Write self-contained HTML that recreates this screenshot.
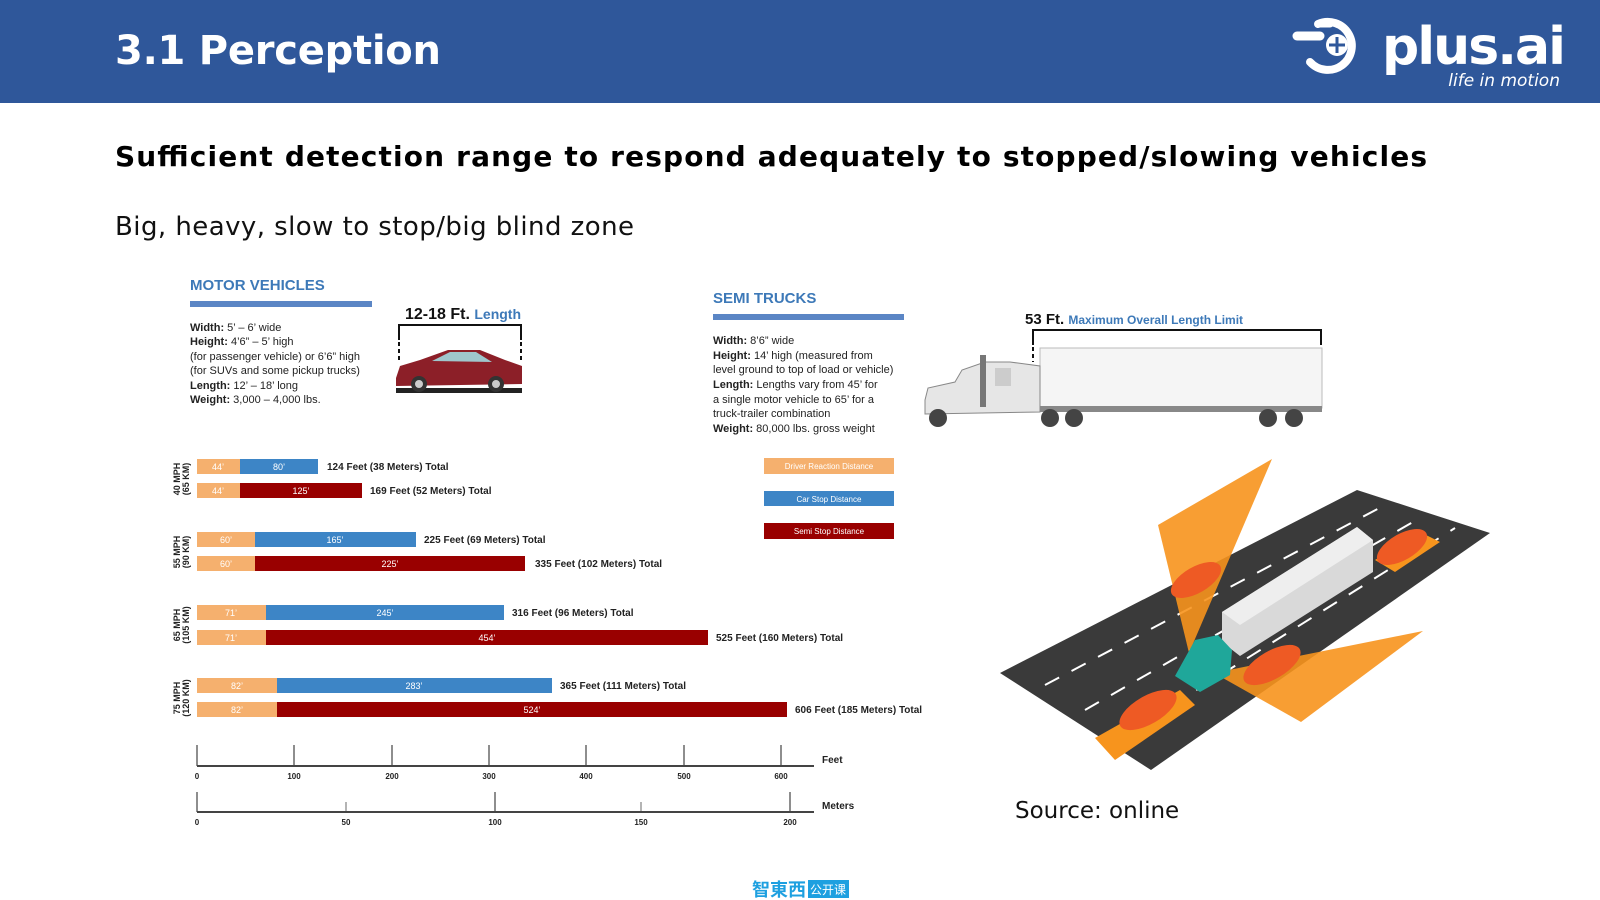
<!DOCTYPE html>
<html><head><meta charset="utf-8"><style>
html,body{margin:0;padding:0;background:#fff}
svg{display:block}
.n{font-family:"Liberation Sans",sans-serif}
</style></head><body>
<svg width="1600" height="900" viewBox="0 0 1600 900" xmlns="http://www.w3.org/2000/svg" class="n">
<rect width="1600" height="103" fill="#2f579a"/>
<text x="115" y="64" font-family="DejaVu Sans" font-weight="bold" font-size="40" fill="#fff" textLength="326">3.1 Perception</text>
<!-- logo -->
<g fill="#fff" stroke="#fff">
<line x1="1297" y1="36" x2="1320" y2="36" stroke-width="9" stroke-linecap="round"/>
<line x1="1318" y1="24" x2="1330" y2="24" stroke-width="7" stroke-linecap="round"/>
<path d="M1318 24 A24 24 0 1 1 1310 62" fill="none" stroke-width="8" stroke-linecap="round"/>
<circle cx="1337" cy="45" r="11" stroke="none"/>
</g>
<path d="M1337 37 L1337 53 M1329 45 L1345 45" stroke="#2f579a" stroke-width="3"/>
<text x="1382" y="64" font-family="DejaVu Sans" font-weight="bold" font-size="52" fill="#fff" textLength="184">plus.ai</text>
<text x="1560" y="86" text-anchor="end" font-family="DejaVu Sans" font-style="italic" font-size="17" fill="#fff">life in motion</text>

<text x="115" y="166" font-family="DejaVu Sans" font-weight="bold" font-size="28" fill="#000" textLength="1312">Sufficient detection range to respond adequately to stopped/slowing vehicles</text>
<text x="115" y="235" font-family="DejaVu Sans" font-size="26" fill="#111" textLength="519">Big, heavy, slow to stop/big blind zone</text>

<!-- Motor vehicles -->
<text x="190" y="290" font-size="15" font-weight="bold" fill="#3d79b8">MOTOR VEHICLES</text>
<rect x="190" y="301" width="182" height="6" fill="#5b86c5"/>
<g font-size="11" fill="#222">
<text x="190" y="331"><tspan font-weight="bold">Width:</tspan> 5’ – 6’ wide</text>
<text x="190" y="345"><tspan font-weight="bold">Height:</tspan> 4’6” – 5’ high</text>
<text x="190" y="360">(for passenger vehicle) or 6’6” high</text>
<text x="190" y="374">(for SUVs and some pickup trucks)</text>
<text x="190" y="389"><tspan font-weight="bold">Length:</tspan> 12’ – 18’ long</text>
<text x="190" y="403"><tspan font-weight="bold">Weight:</tspan> 3,000 – 4,000 lbs.</text>
</g>
<text x="405" y="319" font-size="16" font-weight="bold" fill="#111">12-18 Ft. <tspan fill="#3d79b8" font-size="14">Length</tspan></text>
<path d="M399 340 V325 H521 V340" fill="none" stroke="#111" stroke-width="2"/>
<path d="M399 342 V362 M521 342 V362" stroke="#111" stroke-width="2" stroke-dasharray="4 3"/>
<path d="M396 378 L400 366 L420 360 L448 350 L480 350 L505 360 L522 366 L522 384 L396 386 Z" fill="#8c1f28"/>
<path d="M432 361 L450 352 L476 352 L492 362 Z" fill="#9fc6cc"/>
<rect x="396" y="388" width="126" height="5" fill="#222"/>
<circle cx="419" cy="384" r="8" fill="#333"/><circle cx="419" cy="384" r="4" fill="#ccc"/>
<circle cx="496" cy="384" r="8" fill="#333"/><circle cx="496" cy="384" r="4" fill="#ccc"/>

<!-- Semi trucks -->
<text x="713" y="303" font-size="15" font-weight="bold" fill="#3d79b8">SEMI TRUCKS</text>
<rect x="713" y="314" width="191" height="6" fill="#5b86c5"/>
<g font-size="11" fill="#222">
<text x="713" y="344"><tspan font-weight="bold">Width:</tspan> 8’6” wide</text>
<text x="713" y="359"><tspan font-weight="bold">Height:</tspan> 14’ high (measured from</text>
<text x="713" y="373">level ground to top of load or vehicle)</text>
<text x="713" y="388"><tspan font-weight="bold">Length:</tspan> Lengths vary from 45’ for</text>
<text x="713" y="403">a single motor vehicle to 65’ for a</text>
<text x="713" y="417">truck-trailer combination</text>
<text x="713" y="432"><tspan font-weight="bold">Weight:</tspan> 80,000 lbs. gross weight</text>
</g>
<text x="1025" y="324" font-size="15" font-weight="bold" fill="#111">53 Ft. <tspan fill="#3d79b8" font-size="12">Maximum Overall Length Limit</tspan></text>
<path d="M1033 345 V330 H1321 V345" fill="none" stroke="#111" stroke-width="2"/>
<path d="M1033 347 V362" stroke="#111" stroke-width="2" stroke-dasharray="4 3"/>
<rect x="1040" y="348" width="282" height="60" fill="#f5f5f5" stroke="#bbb"/>
<rect x="1040" y="406" width="282" height="6" fill="#888"/>
<path d="M925 400 L928 388 L955 382 L962 370 L985 362 L1010 362 L1040 366 L1040 412 L925 414 Z" fill="#e6e6e6" stroke="#888"/>
<rect x="980" y="355" width="6" height="52" fill="#777"/>
<rect x="995" y="368" width="16" height="18" fill="#ccc"/>
<circle cx="938" cy="418" r="9" fill="#444"/><circle cx="1050" cy="418" r="9" fill="#444"/><circle cx="1074" cy="418" r="9" fill="#444"/>
<circle cx="1268" cy="418" r="9" fill="#444"/><circle cx="1294" cy="418" r="9" fill="#444"/>

<!-- Bars -->
<g font-size="9" font-weight="bold" fill="#222">
<text transform="translate(180,479) rotate(-90)" text-anchor="middle">40 MPH</text>
<text transform="translate(189,479) rotate(-90)" text-anchor="middle">(65 KM)</text>
<text transform="translate(180,552) rotate(-90)" text-anchor="middle">55 MPH</text>
<text transform="translate(189,552) rotate(-90)" text-anchor="middle">(90 KM)</text>
<text transform="translate(180,625) rotate(-90)" text-anchor="middle">65 MPH</text>
<text transform="translate(189,625) rotate(-90)" text-anchor="middle">(105 KM)</text>
<text transform="translate(180,698) rotate(-90)" text-anchor="middle">75 MPH</text>
<text transform="translate(189,698) rotate(-90)" text-anchor="middle">(120 KM)</text>
</g>
<g font-size="9" fill="#fff" text-anchor="middle">
<rect x="197" y="459" width="43" height="15" fill="#f5b06e"/><rect x="240" y="459" width="78" height="15" fill="#3d85c6"/>
<text x="218" y="470">44’</text><text x="279" y="470">80’</text>
<rect x="197" y="483" width="43" height="15" fill="#f5b06e"/><rect x="240" y="483" width="122" height="15" fill="#990000"/>
<text x="218" y="494">44’</text><text x="301" y="494">125’</text>
<rect x="197" y="532" width="58" height="15" fill="#f5b06e"/><rect x="255" y="532" width="161" height="15" fill="#3d85c6"/>
<text x="226" y="543">60’</text><text x="335" y="543">165’</text>
<rect x="197" y="556" width="58" height="15" fill="#f5b06e"/><rect x="255" y="556" width="270" height="15" fill="#990000"/>
<text x="226" y="567">60’</text><text x="390" y="567">225’</text>
<rect x="197" y="605" width="69" height="15" fill="#f5b06e"/><rect x="266" y="605" width="238" height="15" fill="#3d85c6"/>
<text x="231" y="616">71’</text><text x="385" y="616">245’</text>
<rect x="197" y="630" width="69" height="15" fill="#f5b06e"/><rect x="266" y="630" width="442" height="15" fill="#990000"/>
<text x="231" y="641">71’</text><text x="487" y="641">454’</text>
<rect x="197" y="678" width="80" height="15" fill="#f5b06e"/><rect x="277" y="678" width="275" height="15" fill="#3d85c6"/>
<text x="237" y="689">82’</text><text x="414" y="689">283’</text>
<rect x="197" y="702" width="80" height="15" fill="#f5b06e"/><rect x="277" y="702" width="510" height="15" fill="#990000"/>
<text x="237" y="713">82’</text><text x="532" y="713">524’</text>
</g>
<g font-size="10" font-weight="bold" fill="#222">
<text x="327" y="470">124 Feet (38 Meters) Total</text>
<text x="370" y="494">169 Feet (52 Meters) Total</text>
<text x="424" y="543">225 Feet (69 Meters) Total</text>
<text x="535" y="567">335 Feet (102 Meters) Total</text>
<text x="512" y="616">316 Feet (96 Meters) Total</text>
<text x="716" y="641">525 Feet (160 Meters) Total</text>
<text x="560" y="689">365 Feet (111 Meters) Total</text>
<text x="795" y="713">606 Feet (185 Meters) Total</text>
</g>
<!-- legend -->
<g font-size="8" fill="#fff" text-anchor="middle">
<rect x="764" y="458" width="130" height="16" fill="#f5b06e"/><text x="829" y="469">Driver Reaction Distance</text>
<rect x="764" y="491" width="130" height="15" fill="#3d85c6"/><text x="829" y="502">Car Stop  Distance</text>
<rect x="764" y="523" width="130" height="16" fill="#990000"/><text x="829" y="534">Semi Stop  Distance</text>
</g>
<!-- axes -->
<g stroke="#444" fill="none">
<path d="M197 766 H814" stroke-width="2"/>
<path d="M197 745 V766 M294 745 V766 M392 745 V766 M489 745 V766 M586 745 V766 M684 745 V766 M781 745 V766" stroke-width="1.2"/>
<path d="M197 812 H814" stroke-width="2"/>
<path d="M197 792 V812 M495 792 V812 M790 792 V812" stroke-width="1.2"/>
<path d="M346 802 V812 M641 802 V812" stroke-width="0.8"/>
</g>
<g font-size="8" font-weight="bold" fill="#222" text-anchor="middle">
<text x="197" y="779">0</text><text x="294" y="779">100</text><text x="392" y="779">200</text><text x="489" y="779">300</text><text x="586" y="779">400</text><text x="684" y="779">500</text><text x="781" y="779">600</text>
<text x="197" y="825">0</text><text x="346" y="825">50</text><text x="495" y="825">100</text><text x="641" y="825">150</text><text x="790" y="825">200</text>
</g>
<text x="822" y="763" font-size="10" font-weight="bold" fill="#222">Feet</text>
<text x="822" y="809" font-size="10" font-weight="bold" fill="#222">Meters</text>

<!-- road scene -->
<polygon points="1000,673 1357,490 1490,533 1151,770" fill="#3a3a3a"/>
<g stroke="#fff" stroke-width="2" stroke-dasharray="16 14">
<line x1="1045" y1="685" x2="1385" y2="505"/>
<line x1="1085" y1="710" x2="1420" y2="518"/>
<line x1="1120" y1="738" x2="1455" y2="528"/>
</g>
<polygon points="1189,653 1158,525 1272,459" fill="#f7941d" opacity="0.9"/>
<polygon points="1214,673 1423,631 1301,722" fill="#f7941d" opacity="0.9"/>
<polygon points="1095,738 1180,690 1195,705 1115,760" fill="#f7941d"/>
<polygon points="1375,560 1420,532 1440,542 1395,572" fill="#f7941d"/>
<ellipse cx="1148" cy="710" rx="32" ry="14" transform="rotate(-30 1148 710)" fill="#ee5a24"/>
<ellipse cx="1272" cy="665" rx="32" ry="14" transform="rotate(-30 1272 665)" fill="#ee5a24"/>
<ellipse cx="1196" cy="580" rx="28" ry="13" transform="rotate(-30 1196 580)" fill="#ee5a24"/>
<ellipse cx="1402" cy="547" rx="28" ry="13" transform="rotate(-30 1402 547)" fill="#ee5a24"/>
<polygon points="1222,612 1357,527 1373,540 1373,572 1240,656 1222,642" fill="#d9d9d9"/>
<polygon points="1222,612 1357,527 1373,540 1240,625" fill="#eee"/>
<polygon points="1175,676 1195,640 1218,635 1232,650 1230,675 1200,692" fill="#1fa79a"/>
<text x="1015" y="818" font-family="DejaVu Sans" font-size="23" fill="#111">Source: online</text>
<text x="752" y="896" font-family="'Noto Sans CJK SC',sans-serif" font-size="18" font-weight="bold" fill="#1ea0e0">智東西</text>
<rect x="808" y="880" width="41" height="18" fill="#1ea0e0"/>
<text x="828" y="894" text-anchor="middle" font-family="'Noto Sans CJK SC',sans-serif" font-size="12" fill="#fff">公开课</text>
</svg>
</body></html>
